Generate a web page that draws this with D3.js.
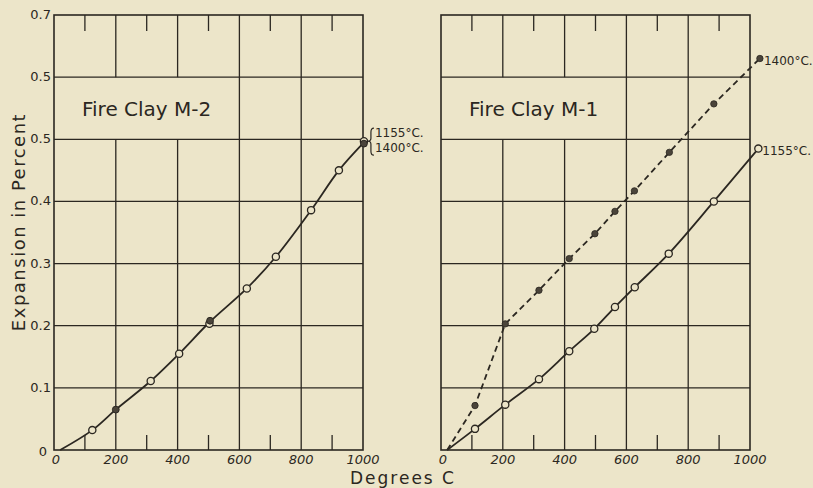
<!DOCTYPE html>
<html>
<head>
<meta charset="utf-8">
<script src="https://cdn.jsdelivr.net/npm/d3@7"></script>
<style>
  body { margin: 0; background: #ece5c9; }
  svg { display: block; }
</style>
</head>
<body>
<div id="chart"></div>
<script>
const width = 813;
const height = 488;

// axis ticks, as printed (the 0.6 line is misprinted "0.5" in the original)
const xTicks = [0, 200, 400, 600, 800, 1000];
const xMinor = [100, 300, 500, 700, 900];
const yTicks = [0, 0.1, 0.2, 0.3, 0.4, 0.5, 0.6, 0.7];
const yTickLabels = ["0", "0.1", "0.2", "0.3", "0.4", "0.5", "0.5", "0.7"];

// Fire Clay M-2 (1155 and 1400 fall on one curve)
const m2Temp = [20, 124, 200, 313, 405, 504, 624, 718, 832, 922, 1003];
const m2Exp = [0, 0.032, 0.065, 0.111, 0.155, 0.206, 0.26, 0.311, 0.386, 0.45, 0.495];
const m2OpenTemp = [124, 313, 405, 503, 624, 718, 832, 922, 1003];
const m2OpenExp = [0.032, 0.111, 0.155, 0.203, 0.26, 0.311, 0.386, 0.45, 0.497];
const m2FillTemp = [200, 505, 1003];
const m2FillExp = [0.065, 0.208, 0.493];

// Fire Clay M-1, 1155 C (solid, open circles)
const m1aTemp = [20, 110, 208, 317, 415, 496, 563, 627, 737, 883, 1027];
const m1aExp = [0, 0.034, 0.073, 0.114, 0.159, 0.195, 0.23, 0.262, 0.316, 0.4, 0.485];

// Fire Clay M-1, 1400 C (dashed, filled circles)
const m1bTemp = [20, 110, 208, 317, 415, 498, 563, 626, 739, 883, 1032];
const m1bExp = [0, 0.0715, 0.203, 0.257, 0.308, 0.348, 0.384, 0.417, 0.479, 0.557, 0.63];

const ink = "#2b2721";
const paper = "#ece5c9";
const font = "'DejaVu Sans', sans-serif";

const pw = 309, ph = 435;
const plotTop = 15;

var svg = d3.select("#chart").append("svg")
  .attr("width", width)
  .attr("height", height);

svg.append("rect").attr("width", width).attr("height", height).attr("fill", paper);

var x = d3.scaleLinear().domain([0, 1000]).range([0, pw]);
var y = d3.scaleLinear().domain([0, 0.7]).range([ph, 0]);

function pts(xs, ys) {
  return xs.map((d, i) => [d, ys[i]]);
}

function drawPanel(left, title, showY) {
  var g = svg.append("g").attr("transform", `translate(${left},${plotTop})`);

  // horizontal grid
  g.selectAll(".hgrid").data(yTicks.slice(1, -1)).enter().append("line")
    .attr("x1", 0).attr("x2", pw)
    .attr("y1", d => y(d)).attr("y2", d => y(d))
    .attr("stroke", ink).attr("stroke-width", 1.3);

  // vertical grid, broken behind the title for x < 600
  xTicks.slice(1, -1).forEach(v => {
    if (v < 600) {
      g.append("line").attr("x1", x(v)).attr("x2", x(v))
        .attr("y1", 0).attr("y2", y(0.6))
        .attr("stroke", ink).attr("stroke-width", 1.3);
      g.append("line").attr("x1", x(v)).attr("x2", x(v))
        .attr("y1", y(0.5)).attr("y2", ph)
        .attr("stroke", ink).attr("stroke-width", 1.3);
    } else {
      g.append("line").attr("x1", x(v)).attr("x2", x(v))
        .attr("y1", 0).attr("y2", ph)
        .attr("stroke", ink).attr("stroke-width", 1.3);
    }
  });

  // minor ticks top and bottom
  g.selectAll(".mt").data(xMinor).enter().append("line")
    .attr("x1", d => x(d)).attr("x2", d => x(d))
    .attr("y1", 0).attr("y2", 16)
    .attr("stroke", ink).attr("stroke-width", 1.3);
  g.selectAll(".mb").data(xMinor).enter().append("line")
    .attr("x1", d => x(d)).attr("x2", d => x(d))
    .attr("y1", ph - 15).attr("y2", ph)
    .attr("stroke", ink).attr("stroke-width", 1.3);

  // frame
  g.append("rect").attr("width", pw).attr("height", ph)
    .attr("fill", "none").attr("stroke", ink).attr("stroke-width", 1.6);

  // x labels
  g.selectAll(".xl").data(xTicks).enter().append("text")
    .attr("x", d => x(d) + (d === 0 ? 2 : 0))
    .attr("y", ph + 14)
    .attr("text-anchor", "middle")
    .style("font-family", font).style("font-style", "italic")
    .style("font-size", "13px").attr("fill", ink)
    .text(d => d);

  if (showY) {
    g.selectAll(".yl").data(yTicks).enter().append("text")
      .attr("x", d => d === 0 ? -7 : -3)
      .attr("y", d => y(d) + (d === 0 ? 6 : 4))
      .attr("text-anchor", "end")
      .style("font-family", font)
      .style("font-size", "13px").attr("fill", ink)
      .text((d, i) => yTickLabels[i]);
  }

  g.append("text")
    .attr("x", 28).attr("y", 101)
    .style("font-family", font).style("font-size", "20px")
    .attr("fill", ink)
    .text(title);

  return g;
}

var line = d3.line().x(d => x(d[0])).y(d => y(d[1]));

// left panel
var gl = drawPanel(54, "Fire Clay M-2", true);
gl.append("path").datum(pts(m2Temp, m2Exp))
  .attr("d", line.curve(d3.curveCatmullRom))
  .attr("fill", "none").attr("stroke", ink).attr("stroke-width", 1.8);
gl.selectAll(".o").data(pts(m2OpenTemp, m2OpenExp)).enter().append("circle")
  .attr("cx", d => x(d[0])).attr("cy", d => y(d[1])).attr("r", 3.6)
  .attr("fill", paper).attr("stroke", ink).attr("stroke-width", 1.3);
gl.selectAll(".f").data(pts(m2FillTemp, m2FillExp)).enter().append("circle")
  .attr("cx", d => x(d[0])).attr("cy", d => y(d[1])).attr("r", 3.4)
  .attr("fill", "#4a443a").attr("stroke", ink).attr("stroke-width", 1);

// brace with the two firing temperatures
var ann = gl.append("g").attr("transform", `translate(${x(1003) + 6},${y(0.497)})`)
  .style("font-family", font).style("font-size", "12px").attr("fill", ink);
var bp = d3.path();
bp.moveTo(4, -13);
bp.quadraticCurveTo(1, -13, 1, -9);
bp.lineTo(1, -3);
bp.quadraticCurveTo(1, 0, -2, 0);
bp.quadraticCurveTo(1, 0, 1, 3);
bp.lineTo(1, 10);
bp.quadraticCurveTo(1, 14, 4, 14);
ann.append("path").attr("d", bp.toString())
  .attr("fill", "none").attr("stroke", ink).attr("stroke-width", 1.2);
ann.append("text").attr("x", 5).attr("y", -4).text("1155°C.");
ann.append("text").attr("x", 5).attr("y", 11).text("1400°C.");

// right panel
var gr = drawPanel(441, "Fire Clay M-1", false);
gr.append("path").datum(pts(m1aTemp, m1aExp))
  .attr("d", line.curve(d3.curveCatmullRom))
  .attr("fill", "none").attr("stroke", ink).attr("stroke-width", 1.8);
gr.append("path").datum(pts(m1bTemp, m1bExp))
  .attr("d", line.curve(d3.curveLinear))
  .attr("fill", "none").attr("stroke", ink).attr("stroke-width", 1.8)
  .attr("stroke-dasharray", "6,4");
gr.selectAll(".o").data(pts(m1aTemp.slice(1), m1aExp.slice(1))).enter().append("circle")
  .attr("cx", d => x(d[0])).attr("cy", d => y(d[1])).attr("r", 3.6)
  .attr("fill", paper).attr("stroke", ink).attr("stroke-width", 1.3);
gr.selectAll(".f").data(pts(m1bTemp.slice(1), m1bExp.slice(1))).enter().append("circle")
  .attr("cx", d => x(d[0])).attr("cy", d => y(d[1])).attr("r", 3.2)
  .attr("fill", "#4a443a").attr("stroke", ink).attr("stroke-width", 0.8);

gr.append("text").attr("x", x(1032) + 4).attr("y", y(0.63) + 6)
  .style("font-family", font).style("font-size", "12px").attr("fill", ink)
  .text("1400°C.");
gr.append("text").attr("x", x(1027) + 4).attr("y", y(0.485) + 6)
  .style("font-family", font).style("font-size", "12px").attr("fill", ink)
  .text("1155°C.");

// axis titles
svg.append("text")
  .attr("transform", "translate(25,222) rotate(-90)")
  .attr("text-anchor", "middle")
  .style("font-family", font).style("font-size", "18px")
  .style("letter-spacing", "1.5px")
  .attr("fill", ink)
  .text("Expansion in Percent");

svg.append("text")
  .attr("x", 403).attr("y", 484)
  .attr("text-anchor", "middle")
  .style("font-family", font).style("font-size", "17px")
  .style("letter-spacing", "2px")
  .attr("fill", ink)
  .text("Degrees C");
</script>
</body>
</html>
